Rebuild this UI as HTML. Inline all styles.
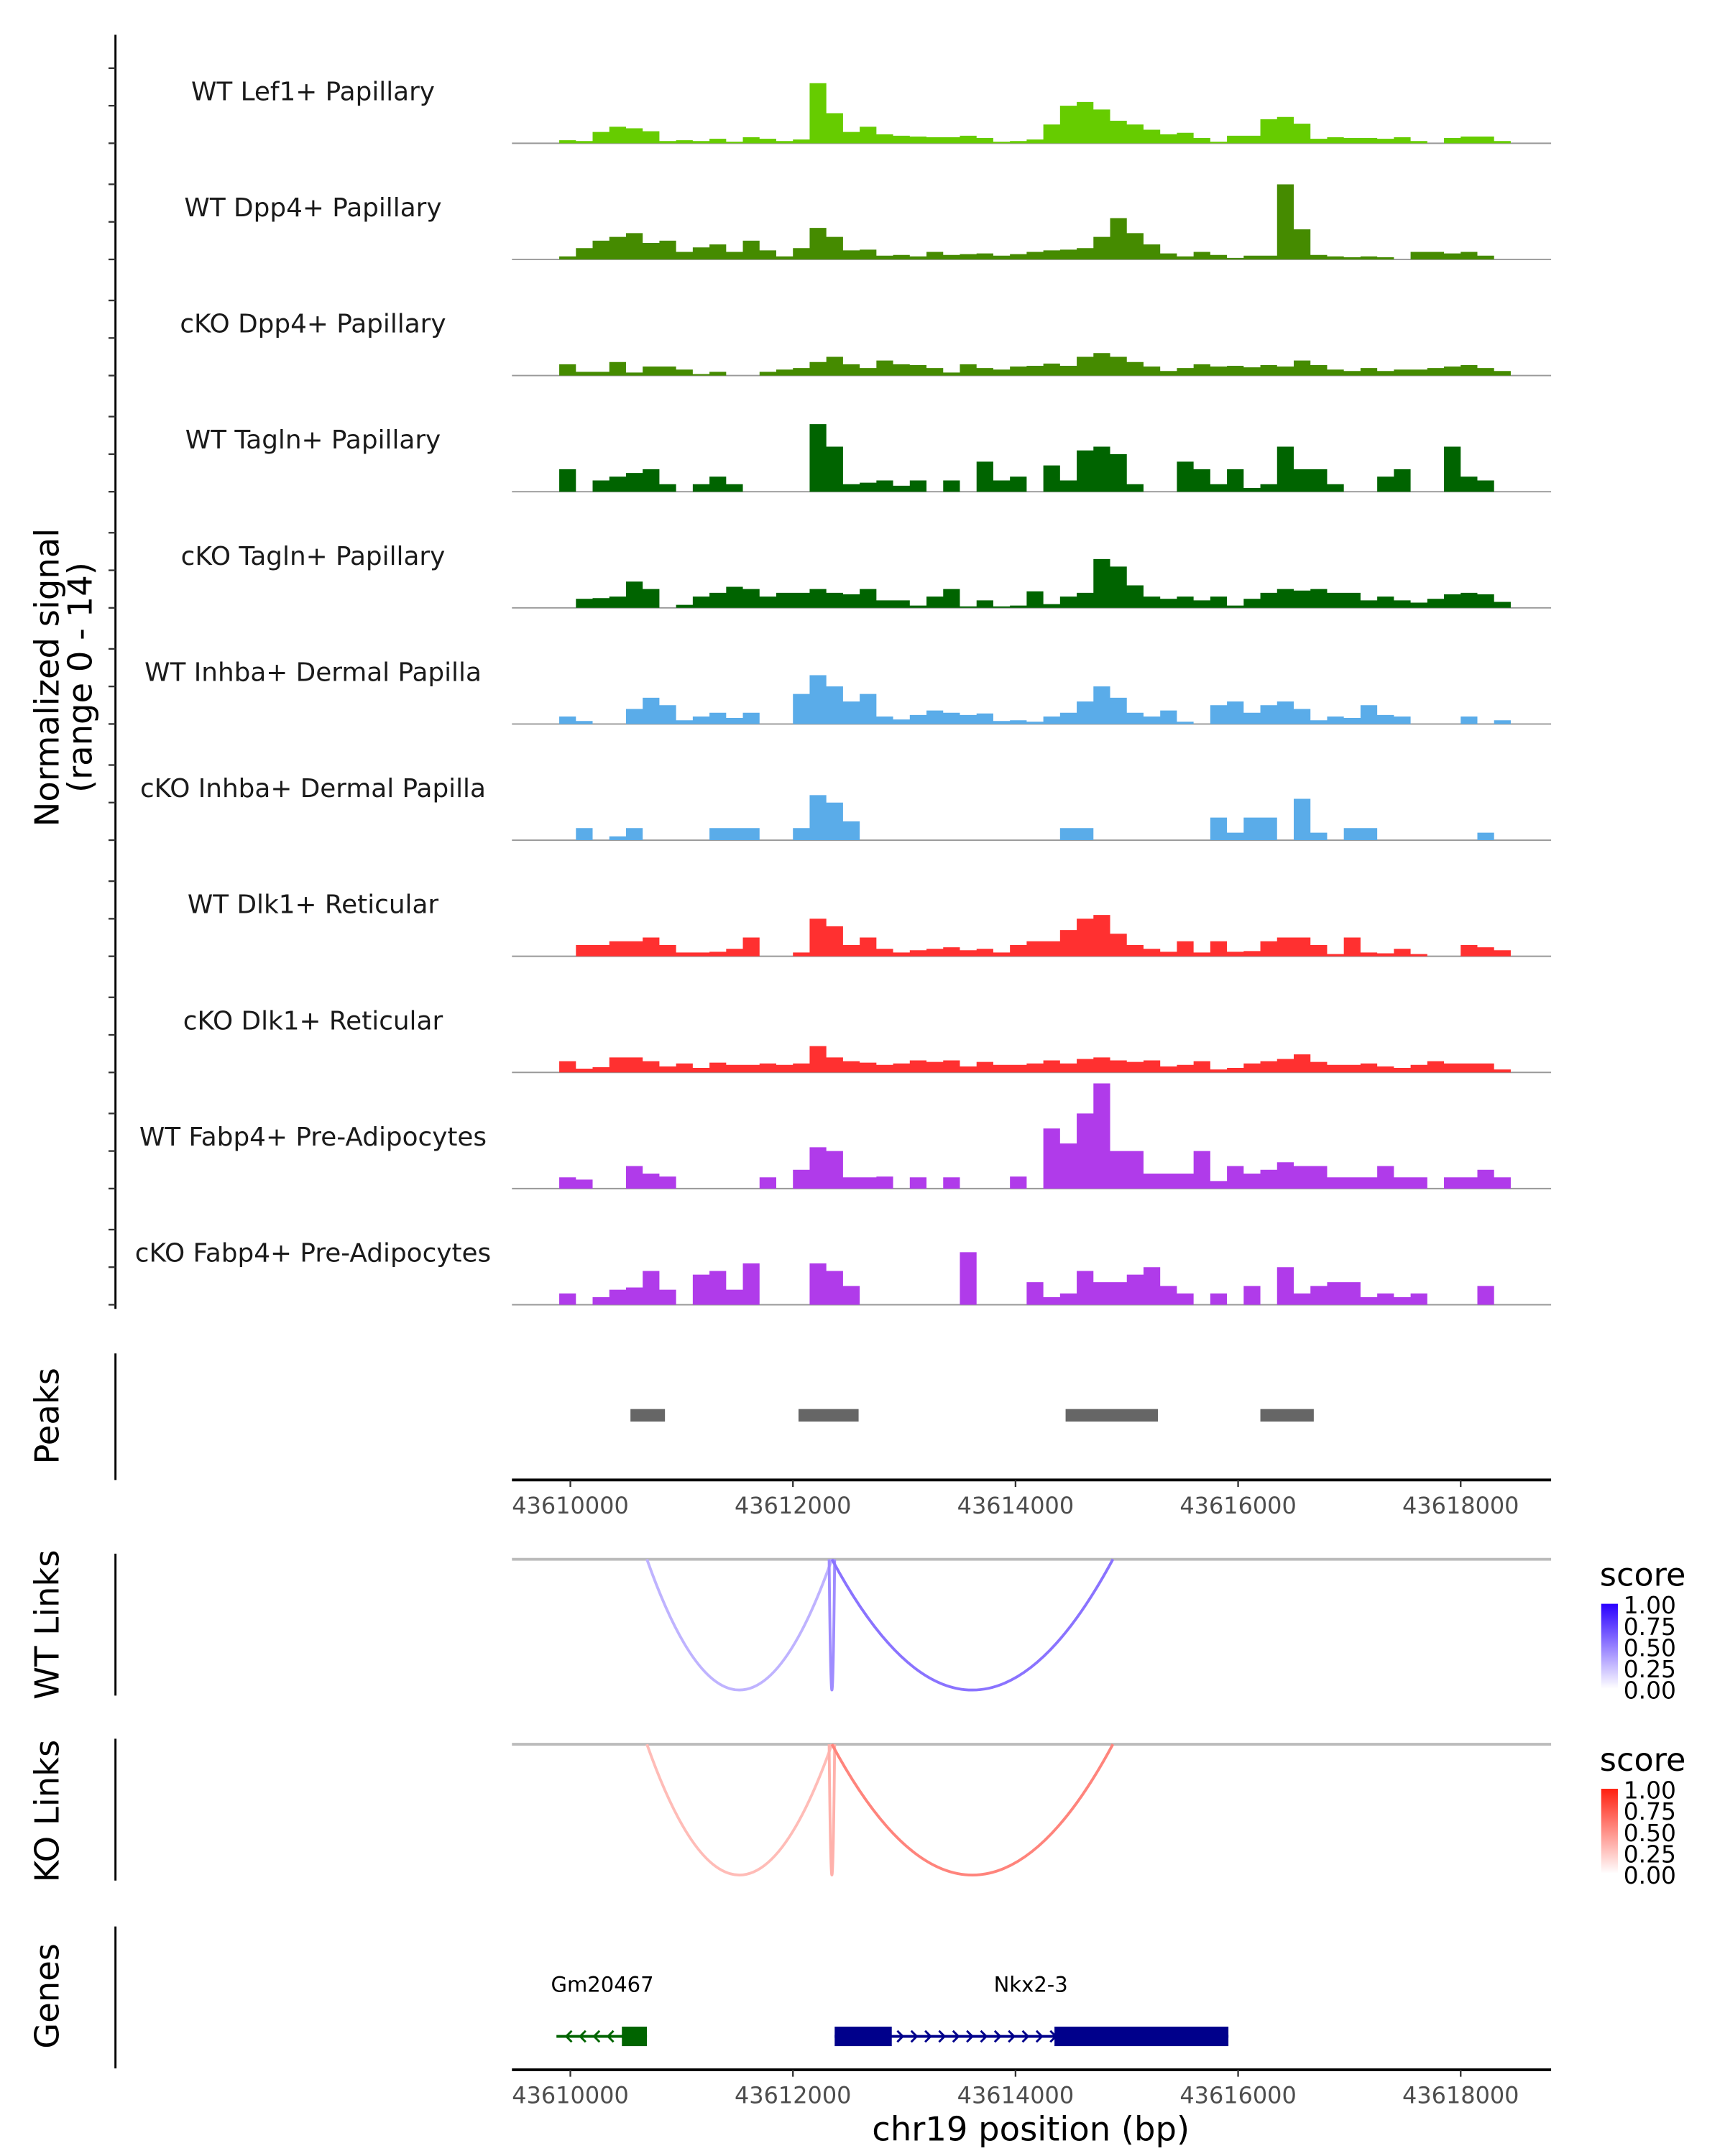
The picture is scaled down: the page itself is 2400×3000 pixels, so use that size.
<!DOCTYPE html>
<html><head><meta charset="utf-8"><style>
html,body{margin:0;padding:0;background:#fff}
svg{display:block}
text{font-family:"DejaVu Sans","Liberation Sans",sans-serif}
</style></head><body>
<svg id="chart" width="2400" height="3000" viewBox="0 0 1240 1550" xmlns="http://www.w3.org/2000/svg">
<g id="tracks"></g>
<g id="peaks"></g>
<g id="links"></g>
<g id="genes"></g>
<text transform="translate(42,487) rotate(-90)" text-anchor="middle" font-size="24" fill="#000">Normalized signal</text>
<text transform="translate(66,487) rotate(-90)" text-anchor="middle" font-size="24" fill="#000">(range 0 - 14)</text>
<text transform="translate(42,1018) rotate(-90)" text-anchor="middle" font-size="24">Peaks</text>
<text transform="translate(42,1168) rotate(-90)" text-anchor="middle" font-size="24">WT Links</text>
<text transform="translate(42,1302) rotate(-90)" text-anchor="middle" font-size="24">KO Links</text>
<text transform="translate(42,1435) rotate(-90)" text-anchor="middle" font-size="24">Genes</text>
<text x="741" y="1539" text-anchor="middle" font-size="24">chr19 position (bp)</text>
</svg>
<script>
const trackNames = ["WT Lef1+ Papillary","WT Dpp4+ Papillary","cKO Dpp4+ Papillary","WT Tagln+ Papillary","cKO Tagln+ Papillary","WT Inhba+ Dermal Papilla","cKO Inhba+ Dermal Papilla","WT Dlk1+ Reticular","cKO Dlk1+ Reticular","WT Fabp4+ Pre-Adipocytes","cKO Fabp4+ Pre-Adipocytes"];
const trackColors = ["#66CC00","#458B00","#458B00","#006400","#006400","#5AACE9","#5AACE9","#FF3030","#FF3030","#B03BEA","#B03BEA"];
const binStart = 43609900;
const binSize = 150;
const sigLef1 = [0.4,0.3,1.5,2.2,2,1.6,0.3,0.4,0.3,0.6,0.2,0.8,0.6,0.3,0.5,8,4,1.5,2.2,1.2,1,0.9,0.8,0.8,1,0.7,0.2,0.3,0.5,2.5,5,5.5,4.5,3,2.5,1.8,1.2,1.4,0.7,0.2,1,1,3.2,3.5,2.6,0.6,0.8,0.7,0.7,0.6,0.8,0.3,0,0.7,0.9,0.9,0.3];
const sigDpp4WT = [0.4,1.5,2.5,3,3.5,2.2,2.5,1,1.6,2,1,2.5,1.2,0.4,1.5,4.2,3,1.2,1.3,0.5,0.6,0.4,1,0.6,0.7,0.8,0.5,0.7,1,1.2,1.3,1.5,3,5.5,3.5,2,0.8,0.4,1,0.6,0.2,0.5,0.5,10,4,0.6,0.4,0.3,0.4,0.3,0,1,1,0.8,1,0.5,0];
const sigDpp4KO = [1.5,0.5,0.5,1.8,0.4,1.2,1.2,0.8,0.2,0.5,0,0,0.5,0.8,1,1.8,2.5,1.5,1,2,1.5,1.4,1,0.4,1.5,1,0.8,1.2,1.3,1.6,1.3,2.5,3,2.5,1.8,1.2,0.6,1,1.5,1.2,1.3,1.1,1.4,1.2,2,1.4,0.8,0.6,1,0.6,0.8,0.8,1,1.2,1.4,1,0.6];
const sigTaglnWT = [3,0,1.5,2,2.5,3,1,0,1,2,1,0,0,0,0,9,6,1,1.2,1.5,0.8,1.5,0,1.5,0,4,1.5,2,0,3.5,1.5,5.5,6,5,1,0,0,4,3,1,3,0.5,1,6,3,3,1,0,0,2,3,0,0,6,2,1.5,0];
const sigTaglnKO = [0,1.2,1.3,1.5,3.5,2.5,0,0.4,1.5,2,2.8,2.5,1.5,2,2,2.5,2,1.8,2.5,1,1,0.3,1.5,2.5,0.2,1,0.2,0.3,2.2,0.5,1.5,2,6.5,5.5,3,1.5,1.2,1.5,1,1.5,0.3,1.2,2,2.5,2.3,2.5,2,2,1,1.5,1,0.7,1.2,1.8,2,1.8,0.8];
const sigInhbaWT = [1,0.4,0,0,2,3.5,2.5,0.5,1,1.5,0.8,1.5,0,0,4,6.5,5,3,4,1,0.6,1.2,1.8,1.5,1.2,1.4,0.4,0.5,0.3,1,1.5,3,5,3.5,1.5,1,1.8,0.3,0,2.5,3,1.5,2.5,3,2,0.5,1,0.8,2.5,1.2,1,0,0,0,1,0,0.5];
const sigInhbaKO = [0,1.6,0,0.5,1.6,0,0,0,0,1.6,1.6,1.6,0,0,1.6,6,5,2.5,0,0,0,0,0,0,0,0,0,0,0,0,1.6,1.6,0,0,0,0,0,0,0,3,1,3,3,0,5.5,1,0,1.6,1.6,0,0,0,0,0,0,1,0];
const sigDlk1WT = [0,1.5,1.5,2,2,2.5,1.5,0.5,0.5,0.6,1,2.5,0,0,0.5,5,4,1.5,2.5,1,0.5,0.8,1,1.2,0.8,1,0.5,1.5,2,2,3.5,5,5.5,3,1.5,1,0.6,2,0.5,2,0.6,0.7,2,2.5,2.5,1.5,0.3,2.5,0.5,0.4,1,0.3,0,0,1.5,1.2,0.8];
const sigDlk1KO = [1.5,0.5,0.7,2,2,1.5,0.8,1.2,0.6,1.3,1,1,1.2,1,1.2,3.5,2,1.5,1.3,1,1.2,1.6,1.4,1.6,0.8,1.4,1,1,1.2,1.6,1.2,1.8,2,1.6,1.4,1.6,0.8,1,1.5,0.4,0.6,1.2,1.5,1.8,2.4,1.4,1,1,1.2,0.8,0.6,1,1.5,1.2,1.2,1.2,0.4];
const sigFabp4WT = [1.5,1.2,0,0,3,2,1.6,0,0,0,0,0,1.5,0,2.5,5.5,5,1.5,1.5,1.6,0,1.5,0,1.5,0,0,0,1.6,0,8,6,10,14,5,5,2,2,2,5,1,3,2,2.5,3.5,3,3,1.5,1.5,1.5,3,1.5,1.5,0,1.5,1.5,2.5,1.5];
const sigFabp4KO = [1.5,0,1,2,2.3,4.5,2,0,4,4.5,2,5.5,0,0,0,5.5,4.5,2.5,0,0,0,0,0,0,7,0,0,0,3,1,1.5,4.5,3,3,4,5,2.5,1.5,0,1.5,0,2.5,0,5,1.5,2.5,3,3,1,1.5,1,1.5,0,0,0,2.5,0];
const signals = [sigLef1,sigDpp4WT,sigDpp4KO,sigTaglnWT,sigTaglnKO,sigInhbaWT,sigInhbaKO,sigDlk1WT,sigDlk1KO,sigFabp4WT,sigFabp4KO];
const xTicks = [43610000,43612000,43614000,43616000,43618000];
const peakStarts = [43610540,43612050,43614450,43616200];
const peakEnds = [43610850,43612590,43615280,43616680];
const linkStarts = [43610688,43612325,43612350];
const linkEnds = [43612350,43612375,43614875];
const wtScores = [0.3,0.45,0.55];
const koScores = [0.3,0.35,0.55];
const geneNames = ["Gm20467","Nkx2-3"];
const geneStarts = [43609875,43612375];
const geneEnds = [43610688,43615913];
const geneStrand = [-1,1];
const exonStarts = [[43610463],[43612375,43614350]];
const exonEnds = [[43610688],[43612888,43615913]];

const NS="http://www.w3.org/2000/svg";
const X = bp => 410 + (bp-43610000)*0.08;
const YS = 5.4;
function mk(tag, attrs, parent){const e=document.createElementNS(NS,tag);for(const k in attrs)e.setAttribute(k,attrs[k]);parent.appendChild(e);return e;}
const tg=document.getElementById('tracks');
const base0=103, step=83.5;
let ax=mk('line',{x1:83,y1:25,x2:83,y2:941,stroke:'#000','stroke-width':1.5},tg);


signals.forEach((vals,t)=>{
  const by=base0+t*step;
  for(let k=0;k<3;k++){
    const tk=mk('line',{x1:78,x2:83,y1:by-k*27,y2:by-k*27,stroke:'#333','stroke-width':1.2},tg);
    
    
  }
  const lab=mk('text',{x:225,y:by-31,'text-anchor':'middle','font-size':18.5,fill:'#1a1a1a'},tg);
  lab.textContent=trackNames[t];
  
  
  const bl=mk('line',{x1:368,x2:1115,y1:by,y2:by,stroke:'#999','stroke-width':1},tg);
  
  
  let d='M'+X(binStart)+','+by;
  vals.forEach((v,i)=>{
    const x1=X(binStart+i*binSize), x2=X(binStart+(i+1)*binSize);
    const y=by-v*YS;
    d+=' L'+x1+','+y+' L'+x2+','+y;
  });
  d+=' L'+X(binStart+vals.length*binSize)+','+by+' Z';
  const p=mk('path',{d:d,fill:trackColors[t],stroke:'none'},tg);
  
  
});
const pg=document.getElementById('peaks');
let pl=mk('line',{x1:83,y1:973,x2:83,y2:1064,stroke:'#000','stroke-width':1.5},pg);


peakStarts.forEach((s,i)=>{
  const r=mk('rect',{x:X(s),y:1013,width:X(peakEnds[i])-X(s),height:9,fill:'#666'},pg);
  
  
});
function xAxis(y,parent,name){
  const l=mk('line',{x1:368,x2:1115,y1:y,y2:y,stroke:'#000','stroke-width':2},parent);
  
  
  xTicks.forEach(v=>{
    const t=mk('line',{x1:X(v),x2:X(v),y1:y,y2:y+5,stroke:'#333','stroke-width':1.2},parent);
    
    
    const tx=mk('text',{x:X(v),y:y+24,'text-anchor':'middle','font-size':16.5,fill:'#4d4d4d'},parent);
    tx.textContent=v;
    
    
  });
}
xAxis(1064,pg,'peaks-x-axis');
const lg=document.getElementById('links');
function hex(h){return [1,3,5].map(i=>parseInt(h.substr(i,2),16));}
function linkPanel(y0,scores,c0,c1,name){
  const l=mk('line',{x1:83,y1:y0-4,x2:83,y2:y0+98,stroke:'#000','stroke-width':1.5},lg);
  
  
  const b=mk('line',{x1:368,x2:1115,y1:y0,y2:y0,stroke:'#bbb','stroke-width':2},lg);
  
  
  const mix=(s)=>{const a=hex(c0),bb=hex(c1);return 'rgb('+a.map((v,i)=>Math.round(v+(bb[i]-v)*s)).join(',')+')';};
  linkStarts.forEach((s,i)=>{
    const x1=X(s),x2=X(linkEnds[i]),depth=94;
    const p=mk('path',{d:'M'+x1+','+y0+' Q'+((x1+x2)/2)+','+(y0+2*depth)+' '+x2+','+y0,fill:'none',stroke:mix(scores[i]),'stroke-width':2},lg);
    
    
  });
  const st=mk('text',{x:1150,y:y0+19,'font-size':23},lg);
  st.textContent='score';
  
  
  const gid='g'+name;
  const defs=mk('defs',{},lg);
  const gr=mk('linearGradient',{id:gid,x1:0,y1:1,x2:0,y2:0},defs);
  mk('stop',{offset:0,'stop-color':c0},gr);mk('stop',{offset:1,'stop-color':c1},gr);
  const cb=mk('rect',{x:1151,y:y0+32,width:12,height:61,fill:'url(#'+gid+')'},lg);
  
  
  ['1.00','0.75','0.50','0.25','0.00'].forEach((t,i)=>{
    const tx=mk('text',{x:1167,y:y0+39+i*15.3,'font-size':17},lg);
    tx.textContent=t;
    
    
  });
}
linkPanel(1121,wtScores,'#FFFFFF','#2A00FF','wt-links');
linkPanel(1254,koScores,'#FFFFFF','#FF2010','ko-links');
const gg=document.getElementById('genes');
let gl=mk('line',{x1:83,y1:1385,x2:83,y2:1487,stroke:'#000','stroke-width':1.5},gg);


const gcol=['#006400','#00008B'];
geneNames.forEach((n,i)=>{
  const x1=X(geneStarts[i]),x2=X(geneEnds[i]),y=1464;
  const tx=mk('text',{x:(i==0?433:741),y:1432,'text-anchor':'middle','font-size':15},gg);
  tx.textContent=n;
  
  
  const ln=mk('line',{x1:x1,x2:x2,y1:y,y2:y,stroke:gcol[i],'stroke-width':2},gg);
  
  
  for(let x=x1+8;x<x2-4;x+=10){
    const d=geneStrand[i]>0?('M'+(x-3)+','+(y-4)+' L'+(x+1)+','+y+' L'+(x-3)+','+(y+4)):('M'+(x+3)+','+(y-4)+' L'+(x-1)+','+y+' L'+(x+3)+','+(y+4));
    const a=mk('path',{d:d,fill:'none',stroke:gcol[i],'stroke-width':1.5},gg);
    
    
  }
  exonStarts[i].forEach((s,j)=>{
    const r=mk('rect',{x:X(s),y:y-7,width:X(exonEnds[i][j])-X(s),height:14,fill:gcol[i]},gg);
    
    
  });
});
xAxis(1488,gg,'genes-x-axis');
</script>
</body></html>
